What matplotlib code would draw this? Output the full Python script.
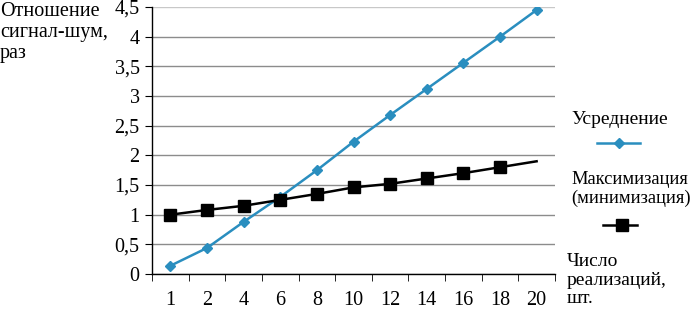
import matplotlib
matplotlib.use("Agg")
from matplotlib import pyplot as plt
from matplotlib.lines import Line2D
import numpy as np

plt.rcParams['font.family'] = ['Liberation Serif', 'DejaVu Serif']

categories = ['1', '2', '4', '6', '8', '10', '12', '14', '16', '18', '20']
averaging = [0.14, 0.44, 0.88, 1.30, 1.75, 2.23, 2.68, 3.12, 3.56, 4.0, 4.45]
maximizing = [1.0, 1.08, 1.15, 1.25, 1.35, 1.46, 1.52, 1.61, 1.70, 1.80, 1.90]
yticks = [0, 0.5, 1, 1.5, 2, 2.5, 3, 3.5, 4, 4.5]
ylabels = ['0', '0,5', '1', '1,5', '2', '2,5', '3', '3,5', '4', '4,5']

blue = '#2A8EBF'
fs = 14.5

fig = plt.figure(figsize=(6.98, 3.19), dpi=100)
ax = fig.add_axes([0.218, 0.141, 0.577, 0.837])

x = np.arange(len(categories))
ax.plot(x, averaging, color=blue, lw=1.8, marker='D', markersize=5.5, zorder=3)
# last point of the second series has no marker in the original
ax.plot(x, maximizing, color='black', lw=1.8, marker='s', markersize=8.5,
        markevery=list(range(len(categories) - 1)), zorder=3)

ax.set_xlim(-0.5, len(categories) - 0.5)
ax.set_ylim(0, 4.5)
ax.set_yticks(yticks)
ax.set_yticklabels(ylabels, fontsize=fs)
ax.set_xticks(x)
ax.set_xticklabels(categories, fontsize=fs)
ax.tick_params(axis='x', length=0, pad=12)
ax.set_xticks(np.arange(-0.5, len(categories)), minor=True)
ax.tick_params(axis='x', which='minor', length=5, direction='out')
ax.tick_params(axis='y', length=5, direction='out', pad=4)

ax.grid(axis='y', color='#8c8c8c', lw=1.0)
ax.set_axisbelow(True)
for g, v in zip(ax.get_ygridlines(), yticks):
    if v == 4.5:
        g.set_color('#c8c8c8')
for s in ['top', 'right']:
    ax.spines[s].set_visible(False)
ax.spines['left'].set_linewidth(1.0)
ax.spines['bottom'].set_linewidth(1.0)

fig.text(0.0, 0.995, 'Отношение\nсигнал-шум,\nраз', fontsize=fs,
         va='top', ha='left', linespacing=1.15)
fig.text(0.818, 0.624, 'Усреднение', fontsize=14, va='center', ha='left')
fig.add_artist(Line2D([0.855, 0.917], [0.552, 0.552], color=blue, lw=1.8,
                      transform=fig.transFigure))
fig.add_artist(Line2D([0.887], [0.552], color=blue, marker='D', markersize=5.5,
                      transform=fig.transFigure))
fig.text(0.818, 0.407, 'Максимизация\n(минимизация)', fontsize=13.3,
         va='center', ha='left', linespacing=1.1)
fig.add_artist(Line2D([0.864, 0.913], [0.295, 0.295], color='black', lw=1.8,
                      transform=fig.transFigure))
fig.add_artist(Line2D([0.891], [0.295], color='black', marker='s', markersize=8.5,
                      transform=fig.transFigure))
fig.text(0.812, 0.122, 'Число\nреализаций,\nшт.', fontsize=14,
         va='center', ha='left', linespacing=1.1)

fig.savefig('out.png', dpi=100)
